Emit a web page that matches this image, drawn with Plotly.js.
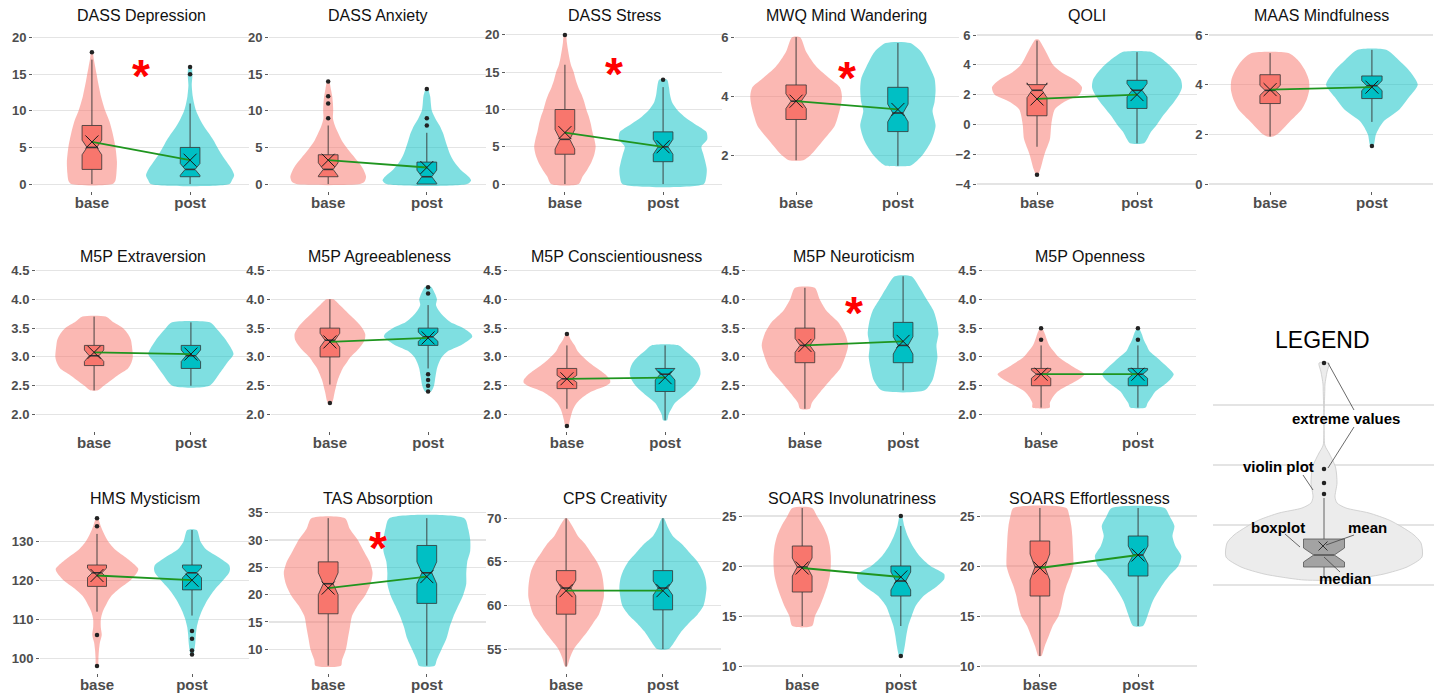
<!DOCTYPE html>
<html><head><meta charset="utf-8">
<script src="https://cdn.plot.ly/plotly-3.0.1.min.js"></script>
<style>html,body{margin:0;padding:0;background:#fff}#chart{width:1434px;height:694px}</style>
</head><body><div id="chart"></div>
<script>
// ---------------- DATA ----------------
const categories = ['base', 'post'];
const titles = ['DASS Depression','DASS Anxiety','DASS Stress','MWQ Mind Wandering','QOLI','MAAS Mindfulness',
  'M5P Extraversion','M5P Agreeableness','M5P Conscientiousness','M5P Neuroticism','M5P Openness',
  'HMS Mysticism','TAS Absorption','CPS Creativity','SOARS Involunatriness','SOARS Effortlessness'];

// [lower whisker, q1, median, q3, upper whisker]
const boxBase = [[0,2,5,8,17],[0,1,2,4,8],[0,4,6,10,16],[1.83,3.21,3.83,4.38,6],[-1.5,0.58,2.29,2.67,5.62],[1.91,3.24,3.77,4.4,5.27],
  [2.42,2.85,3.02,3.2,3.7],[2.52,3.0,3.29,3.5,4.0],[2.1,2.45,2.62,2.8,3.2],[2.1,2.9,3.2,3.5,4.2],[2.12,2.5,2.7,2.8,3.2],
  [112,118.5,122,124,132],[7,16.5,22,26,34],[53,59,62,64,70],[14,17.4,19.9,22,25.8],[11,17,19.9,22.5,25.8]];
const boxPost = [[0,1,2,5,11],[0,0,1,3,7],[0,3,5,7,13],[1.64,2.8,3.43,4.3,5.8],[-1.27,1.07,2.29,2.96,4.85],[2.5,3.44,3.96,4.35,5.4],
  [2.5,2.8,3.02,3.2,3.6],[2.8,3.2,3.35,3.5,3.9],[1.9,2.4,2.7,2.8,3.2],[2.42,2.9,3.2,3.6,4.4],[2.12,2.5,2.7,2.8,3.2],
  [111,117.6,122,124,133],[7,18.4,24,29,34],[55,59.5,62,64,70],[14,17,18.5,20,24],[14,19,21.1,23,25.8]];
const notchBase = [1.0,0.9,1.3,0.25,0.5,0.2,0.1,0.12,0.06,0.12,0.07,1.2,2.0,0.9,0.9,1.3];
const notchPost = [0.8,0.9,1.0,0.3,0.45,0.2,0.1,0.08,0.1,0.15,0.07,1.3,2.0,0.8,0.9,0.9];
const meanBase = [5.75,3.26,6.9,3.83,1.71,3.8,3.08,3.26,2.62,3.2,2.7,121.3,21.2,61.7,19.8,19.8];
const meanPost = [3.26,2.26,5.0,3.55,2.0,3.9,3.05,3.33,2.64,3.27,2.7,120.1,23.3,61.7,18.9,21.1];
const outliersBase = [[18],[14,12,11,9],[20],[],[-3.38],[],[],[2.2],[3.4,1.8],[],[3.5,3.3],[136,134,106,98],[],[],[],[]];
const outliersPost = [[16,15],[13,9,8],[14],[],[],[1.53],[],[4.21,4.1,2.7,2.6,2.5,2.4],[],[],[3.5,3.3],[107,105,102,101],[],[],[25,11],[]];
const significant = [true,false,true,true,false,false,false,false,false,true,false,false,true,false,false,false];
const starY = [16.3,null,16.2,5.0,null,null,null,null,null,3.95,null,null,30.6,null,null,null];
const yTicks = [[0,5,10,15,20],[0,5,10,15,20],[0,5,10,15,20],[2,4,6],[-4,-2,0,2,4,6],[0,2,4,6],
  [2,2.5,3,3.5,4,4.5],[2,2.5,3,3.5,4,4.5],[2,2.5,3,3.5,4,4.5],[2,2.5,3,3.5,4,4.5],[2,2.5,3,3.5,4,4.5],
  [100,110,120,130],[10,15,20,25,30,35],[55,60,65,70],[10,15,20,25],[10,15,20,25]];

// violin profiles: [value, half-width in category units], top to bottom
const violinBase = [
 [[18,0.007],[17,0.02],[16,0.034],[15,0.048],[14,0.061],[12,0.092],[10,0.136],[8.5,0.18],[7,0.21],[5,0.24],[3,0.255],[1.5,0.25],[0.5,0.24],[0,0.21]],
 [[14,0.01],[13,0.027],[12,0.041],[11,0.048],[10,0.051],[9,0.048],[8,0.068],[7,0.10],[6,0.136],[5,0.187],[4,0.245],[3,0.306],[2,0.357],[1,0.384],[0.3,0.367],[0,0.323]],
 [[20,0.01],[19,0.02],[18,0.031],[17,0.044],[16,0.061],[15,0.09],[14,0.11],[13,0.136],[12,0.17],[11,0.197],[10,0.218],[9,0.245],[8,0.265],[7,0.28],[6,0.3],[5,0.313],[4,0.3],[3,0.272],[2,0.23],[1,0.18],[0,0.14]],
 [[6,0.04],[5.5,0.1],[5,0.2],[4.6,0.33],[4.3,0.43],[4,0.45],[3.7,0.44],[3.3,0.41],[3,0.38],[2.5,0.265],[2,0.14],[1.83,0.07]],
 [[5.7,0.015],[5,0.08],[4,0.16],[3.5,0.245],[3,0.375],[2.5,0.45],[2,0.425],[1.5,0.27],[1,0.177],[0,0.143],[-1,0.129],[-2,0.075],[-3,0.034],[-3.38,0.01]],
 [[5.27,0.18],[5,0.27],[4.6,0.34],[4.2,0.38],[3.8,0.385],[3.4,0.36],[3,0.31],[2.5,0.19],[2.2,0.12],[2,0.07],[1.91,0.03]],
 [[3.7,0.12],[3.6,0.2],[3.5,0.3],[3.4,0.35],[3.3,0.38],[3.2,0.39],[3.0,0.4],[2.9,0.385],[2.8,0.35],[2.7,0.26],[2.6,0.18],[2.5,0.1],[2.42,0.04]],
 [[4.0,0.035],[3.9,0.1],[3.8,0.16],[3.7,0.22],[3.6,0.28],[3.5,0.33],[3.4,0.36],[3.3,0.355],[3.2,0.32],[3.1,0.27],[3.0,0.21],[2.9,0.17],[2.8,0.13],[2.6,0.08],[2.4,0.05],[2.2,0.02]],
 [[3.4,0.01],[3.3,0.04],[3.2,0.08],[3.1,0.11],[3.0,0.165],[2.9,0.23],[2.8,0.31],[2.7,0.39],[2.6,0.44],[2.55,0.44],[2.5,0.4],[2.4,0.25],[2.3,0.16],[2.2,0.1],[2.1,0.065],[2.0,0.045],[1.9,0.03],[1.8,0.015]],
 [[4.2,0.1],[4.0,0.15],[3.8,0.22],[3.6,0.34],[3.4,0.41],[3.2,0.44],[3.0,0.41],[2.8,0.36],[2.6,0.26],[2.4,0.16],[2.2,0.07],[2.1,0.05]],
 [[3.5,0.01],[3.4,0.04],[3.3,0.06],[3.2,0.085],[3.1,0.13],[3.0,0.18],[2.9,0.265],[2.8,0.36],[2.7,0.45],[2.6,0.38],[2.5,0.27],[2.4,0.17],[2.3,0.12],[2.2,0.09],[2.12,0.09]],
 [[136,0.01],[134,0.04],[132,0.075],[130,0.12],[128,0.19],[126,0.3],[124,0.4],[123,0.435],[122,0.42],[120,0.35],[118,0.24],[116,0.15],[114,0.1],[112,0.06],[110,0.04],[108,0.04],[106,0.05],[104,0.03],[102,0.02],[100,0.015],[98,0.01]],
 [[34,0.17],[32,0.22],[30,0.3],[28,0.36],[26,0.42],[24,0.45],[22,0.43],[20,0.38],[18,0.3],[16,0.24],[14,0.22],[12,0.2],[10,0.18],[8,0.14],[7,0.13]],
 [[70,0.01],[69,0.07],[68,0.12],[67,0.2],[66,0.26],[65,0.32],[64,0.36],[63,0.38],[62,0.39],[61,0.39],[60,0.37],[59,0.34],[58,0.28],[57,0.22],[56,0.15],[55,0.08],[54,0.04],[53,0.01]],
 [[25.8,0.1],[25,0.15],[24,0.21],[23,0.255],[22,0.28],[21,0.29],[20,0.29],[19,0.28],[18,0.255],[17,0.22],[16,0.18],[15,0.13],[14,0.1]],
 [[25.8,0.27],[25,0.3],[24,0.32],[23,0.33],[22,0.335],[21,0.34],[20,0.34],[19,0.31],[18,0.27],[17,0.24],[16,0.22],[15,0.19],[14,0.13],[13,0.09],[12,0.05],[11,0.015]]
];
const violinPost = [
 [[16,0.014],[15,0.024],[13.5,0.017],[12,0.027],[11,0.041],[10,0.061],[9,0.095],[8,0.136],[7,0.187],[6,0.238],[5,0.279],[4,0.323],[3,0.374],[2,0.425],[1.2,0.449],[0.5,0.425],[0,0.40]],
 [[13,0.01],[12,0.034],[11,0.041],[10,0.051],[9,0.085],[8,0.129],[7,0.163],[6,0.187],[5,0.211],[4,0.238],[3,0.279],[2,0.34],[1,0.425],[0.5,0.449],[0,0.408]],
 [[14,0.04],[13,0.06],[12,0.07],[11,0.09],[10,0.14],[9,0.22],[8,0.33],[7,0.44],[6,0.45],[5,0.39],[4,0.41],[3,0.43],[2,0.445],[1,0.44],[0,0.415]],
 [[5.8,0.12],[5.5,0.23],[5,0.31],[4.6,0.36],[4.2,0.37],[3.8,0.36],[3.5,0.34],[3,0.37],[2.5,0.33],[2,0.24],[1.7,0.15],[1.64,0.12]],
 [[4.85,0.15],[4.5,0.23],[4,0.32],[3.5,0.39],[3,0.44],[2.5,0.45],[2,0.42],[1.5,0.37],[1,0.31],[0.5,0.25],[0,0.2],[-0.5,0.14],[-1,0.1],[-1.27,0.07]],
 [[5.4,0.14],[5,0.26],[4.5,0.38],[4,0.45],[3.5,0.365],[3,0.27],[2.5,0.11],[2,0.04],[1.53,0.015]],
 [[3.6,0.195],[3.5,0.26],[3.3,0.36],[3.05,0.44],[2.9,0.375],[2.7,0.29],[2.5,0.19]],
 [[4.22,0.03],[4.1,0.07],[4.0,0.09],[3.9,0.08],[3.8,0.11],[3.7,0.16],[3.6,0.23],[3.5,0.36],[3.4,0.44],[3.35,0.45],[3.3,0.42],[3.2,0.33],[3.1,0.2],[3.0,0.14],[2.9,0.11],[2.8,0.09],[2.6,0.07],[2.5,0.06],[2.4,0.03]],
 [[3.2,0.14],[3.1,0.21],[3.0,0.28],[2.9,0.33],[2.8,0.355],[2.7,0.36],[2.6,0.34],[2.5,0.3],[2.4,0.24],[2.3,0.17],[2.2,0.1],[2.1,0.065],[2.0,0.035],[1.9,0.02]],
 [[4.4,0.085],[4.2,0.17],[4.0,0.24],[3.8,0.31],[3.6,0.345],[3.4,0.36],[3.2,0.34],[3.0,0.35],[2.8,0.33],[2.6,0.3],[2.42,0.22]],
 [[3.5,0.01],[3.4,0.04],[3.3,0.06],[3.2,0.09],[3.1,0.12],[3.0,0.19],[2.9,0.255],[2.8,0.32],[2.7,0.37],[2.6,0.33],[2.5,0.26],[2.4,0.18],[2.3,0.14],[2.2,0.1],[2.12,0.08]],
 [[133,0.05],[130,0.09],[128,0.15],[126,0.28],[124,0.39],[123,0.4],[122,0.39],[120,0.325],[118,0.25],[116,0.19],[114,0.14],[112,0.1],[110,0.07],[108,0.05],[106,0.04],[104,0.035],[102,0.025],[101,0.015]],
 [[34,0.38],[32,0.42],[30,0.44],[28,0.44],[26,0.41],[24,0.4],[22,0.4],[20,0.37],[18,0.32],[16,0.27],[14,0.23],[12,0.2],[10,0.15],[8,0.1],[7,0.08]],
 [[70,0.01],[69,0.05],[68,0.1],[67,0.2],[66,0.28],[65,0.36],[64,0.41],[63,0.44],[62,0.45],[61,0.44],[60,0.42],[59,0.36],[58,0.27],[57,0.19],[56,0.13],[55,0.06]],
 [[25,0.01],[24,0.035],[23,0.07],[22,0.12],[21,0.19],[20,0.3],[19.2,0.44],[18.7,0.44],[18,0.37],[17,0.23],[16,0.15],[15,0.11],[14,0.075],[13,0.055],[12,0.04],[11,0.015]],
 [[25.8,0.27],[25,0.32],[24,0.37],[23,0.35],[22,0.38],[21,0.44],[20,0.41],[19,0.315],[18,0.24],[16.5,0.15],[15,0.095],[14,0.05]]
];

// legend illustration (schematic, in its own panel units)
const legendViolin = [[363,5],[372,3],[384,1],[390,0.8],[445,0.8],[453,5],[467,11.5],[483,13],[497,11],[503,13],[508,22],[513,45],[520,65],[527,78],[535,90],[543,97],[557,98],[567,83],[574,60],[577,43],[580,20]];
const legendBox = [577,567,555,539,498];
const legendNotch = 7;
const legendDots = [363,469,483,494];
const legendMean = 546;
const legendLabels = ['LEGEND','extreme values','violin plot','boxplot','mean','median'];

// ---------------- LAYOUT CONFIG ----------------
const W = 1434, H = 694;
const panelPx = [[33,249],[269,486],[506,722],[735,959],[977,1197],[1209,1433],
  [36,249],[271,487],[508,724],[746,962],[983,1196],
  [40,249],[269,486],[508,721],[743,960],[981,1197]];
const panelRow = [0,0,0,0,0,0,1,1,1,1,1,2,2,2,2,2];
const rowPx = [[28,191],[262,431],[505,673]];
const titlePx = [16,257,498];
const yRanges = [[-0.95,21.32],[-0.95,21.32],[-0.93,20.93],[0.787,6.31],[-4.47,6.47],[-0.28,6.28],
  [1.714,4.648],[1.714,4.648],[1.714,4.648],[1.714,4.648],[1.714,4.648],
  [96.22,139.44],[5.66,36.41],[52.25,71.53],[9.3,26.1],[9.3,26.1]];
const legendPx = {x:[1213,1434], y:[320,600], grid:[405,465,525,585], cx:1324};
const legendTextPos = [[1322,340,23],[1346,418,15],[1278,466,15],[1278,527,15],[1367,527,15],[1345,578,15]];
const legendLeaders = [[[1328,363],[1354,410]],[[1354,427],[1328,468]],[[1303,475],[1313,490]],[[1285,534],[1300,547]],[[1354,535],[1326,545]],[[1340,572],[1324,557]]];

const FONT = 'Liberation Sans, Arial, sans-serif';
const colBase = '#F8766D', colPost = '#00BFC4';
const vBase = 'rgba(248,118,109,0.52)', vPost = 'rgba(0,191,196,0.5)';
const BOX_HW = 0.1, NOTCH_FRAC = 0.5;

const traces = [];
const layout = {
  width: W, height: H, margin: {l:0, r:0, t:0, b:0},
  paper_bgcolor: '#fff', plot_bgcolor: 'rgba(0,0,0,0)',
  showlegend: false, annotations: [], font: {family: FONT}
};

function violin(prof, center, sign, color, lineColor, xa, ya) {
  const xs = [], ys = [];
  prof.forEach(p => { xs.push(center + p[1]); ys.push(sign * p[0]); });
  for (let i = prof.length - 1; i >= 0; i--) { xs.push(center - prof[i][1]); ys.push(sign * prof[i][0]); }
  xs.push(xs[0]); ys.push(ys[0]);
  return {type:'scatter', x:xs, y:ys, mode:'lines', fill:'toself', fillcolor:color,
    line:{width: lineColor ? 0.8 : 0, color: lineColor || color, shape:'spline', smoothing:0.7},
    xaxis:xa, yaxis:ya, hoverinfo:'skip'};
}
// notched box drawn through the axes from its five-number summary
function boxTraces(st, ns, c, hw, color, lineColor, xa, ya) {
  const [lf, q1, md, q3, uf] = st;
  const lo = md - ns, hi = md + ns, nw = hw * NOTCH_FRAC;
  const out = [];
  out.push({type:'scatter', mode:'lines', x:[c, c, null, c, c], y:[q3, uf, null, q1, lf],
    line:{color:lineColor, width:0.9}, xaxis:xa, yaxis:ya, hoverinfo:'skip'});
  out.push({type:'scatter', mode:'lines', fill:'toself', fillcolor:color,
    x:[c-hw, c-hw, c-nw, c-hw, c-hw, c+hw, c+hw, c+nw, c+hw, c+hw, c-hw],
    y:[q1, lo, md, hi, q3, q3, hi, md, lo, q1, q1],
    line:{color:lineColor, width:0.8}, xaxis:xa, yaxis:ya, hoverinfo:'skip'});
  out.push({type:'scatter', mode:'lines', x:[c-nw, c+nw], y:[md, md],
    line:{color:lineColor, width:1.6}, xaxis:xa, yaxis:ya, hoverinfo:'skip'});
  return out;
}

titles.forEach((t, i) => {
  const n = i + 1;
  const xa = n === 1 ? 'x' : 'x' + n, ya = n === 1 ? 'y' : 'y' + n;
  const [l, r] = panelPx[i];
  const [top, bot] = rowPx[panelRow[i]];
  layout[n === 1 ? 'xaxis' : 'xaxis' + n] = {
    domain:[l / W, r / W], anchor: ya, range:[0.4, 2.6], tickvals:[1,2], ticktext:categories,
    showgrid:false, zeroline:false, showline:false, ticks:'outside', ticklen:3, tickwidth:0.8, tickcolor:'#333',
    ticklabelstandoff:-5,
    tickfont:{family:FONT, size:15, color:'#4d4d4d', weight:'bold'}, fixedrange:true
  };
  layout[n === 1 ? 'yaxis' : 'yaxis' + n] = {
    domain:[1 - bot / H, 1 - top / H], anchor: xa, range: yRanges[i], tickvals: yTicks[i],
    tickformat: (i >= 6 && i <= 10) ? '.1f' : '', showgrid:true, gridcolor:'#e4e4e4', gridwidth:1.1,
    zeroline:false, showline:false, ticks:'outside', ticklen:3, tickwidth:0.8, tickcolor:'#333',
    tickfont:{family:FONT, size:13, color:'#4d4d4d', weight:'bold'}, fixedrange:true
  };
  traces.push(violin(violinBase[i], 1, 1, vBase, null, xa, ya));
  traces.push(violin(violinPost[i], 2, 1, vPost, null, xa, ya));
  boxTraces(boxBase[i], notchBase[i], 1, BOX_HW, colBase, '#333333', xa, ya).forEach(tr => traces.push(tr));
  boxTraces(boxPost[i], notchPost[i], 2, BOX_HW, colPost, '#333333', xa, ya).forEach(tr => traces.push(tr));
  const ox = [], oy = [];
  outliersBase[i].forEach(v => { ox.push(1); oy.push(v); });
  outliersPost[i].forEach(v => { ox.push(2); oy.push(v); });
  if (ox.length) traces.push({type:'scatter', mode:'markers', x:ox, y:oy, marker:{color:'#222', size:4.5},
    xaxis:xa, yaxis:ya, hoverinfo:'skip'});
  traces.push({type:'scatter', mode:'lines', x:[1,2], y:[meanBase[i], meanPost[i]],
    line:{color:'#1f951f', width:1.8}, xaxis:xa, yaxis:ya, hoverinfo:'skip'});
  traces.push({type:'scatter', mode:'markers', x:[1,2], y:[meanBase[i], meanPost[i]],
    marker:{symbol:'x-thin', size:13, line:{color:'#1a1a1a', width:1}}, xaxis:xa, yaxis:ya, hoverinfo:'skip'});
  layout.annotations.push({xref:'paper', yref:'paper', x:(l + r) / 2 / W, y:1 - titlePx[panelRow[i]] / H,
    xanchor:'center', yanchor:'middle', showarrow:false, text:t, font:{family:FONT, size:16, color:'#111'}});
  if (significant[i]) {
    layout.annotations.push({xref:xa, yref:ya, x:1.5, y:starY[i], xanchor:'center', yanchor:'middle',
      showarrow:false, text:'*', yshift:-11, font:{family:FONT, size:46, color:'#ff0000', weight:'bold'}});
  }
});

// ---------------- LEGEND PANEL ----------------
layout.xaxis17 = {domain:[legendPx.x[0] / W, legendPx.x[1] / W], anchor:'y17', range:legendPx.x,
  showgrid:false, zeroline:false, showticklabels:false, ticks:'', fixedrange:true};
layout.yaxis17 = {domain:[1 - legendPx.y[1] / H, 1 - legendPx.y[0] / H], anchor:'x17',
  range:[-legendPx.y[1], -legendPx.y[0]], tickvals:legendPx.grid.map(v => -v), showticklabels:false, ticks:'',
  showgrid:true, gridcolor:'#e4e4e4', gridwidth:1.1, zeroline:false, fixedrange:true};
{
  const cx = legendPx.cx;
  traces.push(violin(legendViolin, cx, -1, '#ececec', '#c9c9c9', 'x17', 'y17'));
  boxTraces(legendBox.map(v => -v), legendNotch, cx, 20.5, '#a3a3a3', '#555555', 'x17', 'y17').forEach(tr => traces.push(tr));
  traces.push({type:'scatter', mode:'markers', x:legendDots.map(() => cx), y:legendDots.map(v => -v),
    marker:{color:'#222', size:4.5}, xaxis:'x17', yaxis:'y17', hoverinfo:'skip'});
  traces.push({type:'scatter', mode:'markers', x:[cx - 1], y:[-legendMean],
    marker:{symbol:'x-thin', size:9, line:{color:'#333', width:1}}, xaxis:'x17', yaxis:'y17', hoverinfo:'skip'});
  const lx = [], ly = [];
  legendLeaders.forEach(s => { lx.push(s[0][0], s[1][0], null); ly.push(-s[0][1], -s[1][1], null); });
  traces.push({type:'scatter', mode:'lines', x:lx, y:ly, line:{color:'#444', width:0.8},
    xaxis:'x17', yaxis:'y17', hoverinfo:'skip'});
  legendLabels.forEach((t, i) => {
    const p = legendTextPos[i];
    layout.annotations.push({xref:'x17', yref:'y17', x:p[0], y:-p[1], xanchor:'center', yanchor:'middle',
      showarrow:false, text:t, font:{family:FONT, size:p[2], color:'#000', weight: i === 0 ? 'normal' : 'bold'}});
  });
}

traces.forEach(t => { t.showlegend = false; });
Plotly.newPlot('chart', traces, layout, {displayModeBar:false, staticPlot:true});
</script>
</body></html>
